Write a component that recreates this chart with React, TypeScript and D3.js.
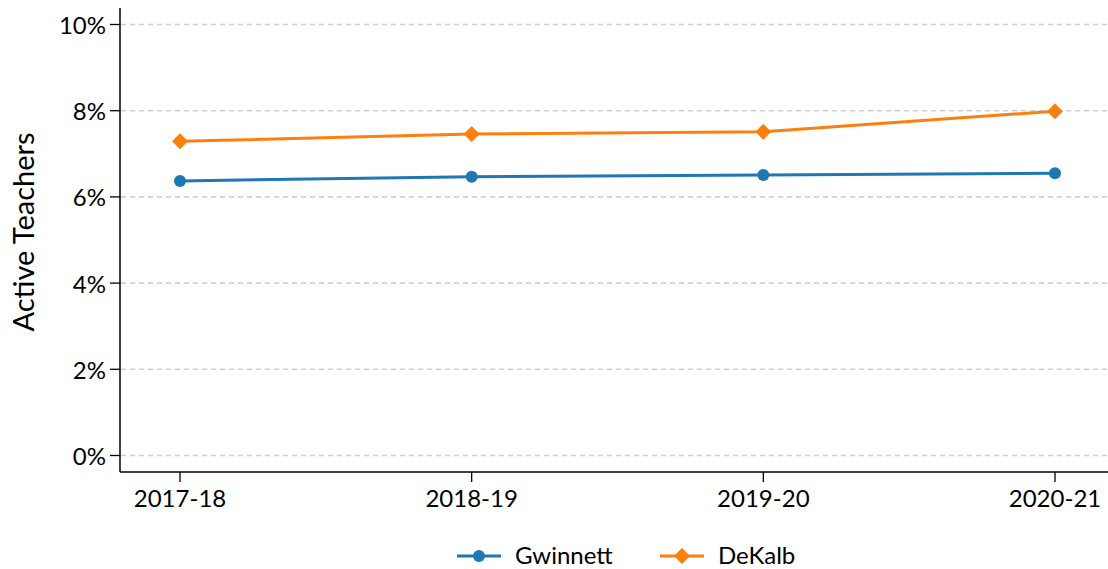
import React from "react";
import * as d3 from "d3";

const years = ["2017-18", "2018-19", "2019-20", "2020-21"];
const gwinnett = [6.37, 6.47, 6.51, 6.55];
const dekalb = [7.29, 7.46, 7.51, 7.99];
const yTicks = [0, 2, 4, 6, 8, 10];
const seriesNames = ["Gwinnett", "DeKalb"];
const colors = ["#1f77b4", "#ff7f0e"];

const W = 1108;
const H = 569;
const FONT = "Lato, 'DejaVu Sans', sans-serif";

export default function App() {
  const x = d3.scalePoint<string>().domain(years).range([180, 1055]);
  const y = d3.scaleLinear().domain([0, 10]).range([455.5, 24.5]);
  const axisLeft = 120;
  const axisBottom = 472;
  const line = d3
    .line<number>()
    .x((_, i) => x(years[i]) as number)
    .y((d) => y(d));
  const diamond = (cx: number, cy: number, r: number) =>
    `M${cx},${cy - r}L${cx + r},${cy}L${cx},${cy + r}L${cx - r},${cy}Z`;

  const data = [gwinnett, dekalb];

  return (
    <svg width={W} height={H} style={{ position: "absolute", left: 0, top: 0, background: "#fff" }}>
      <rect x={0} y={0} width={W} height={H} fill="#fff" />
      {yTicks.map((t) => (
        <line
          key={"g" + t}
          x1={axisLeft + 1}
          x2={W}
          y1={y(t)}
          y2={y(t)}
          stroke="#cfcfcf"
          strokeWidth={1.6}
          strokeDasharray="5,4"
        />
      ))}
      <line x1={axisLeft} x2={axisLeft} y1={8} y2={axisBottom} stroke="#000" strokeWidth={1.5} />
      <line x1={axisLeft} x2={W} y1={axisBottom} y2={axisBottom} stroke="#000" strokeWidth={1.5} />
      {yTicks.map((t) => (
        <g key={"yt" + t}>
          <line x1={axisLeft - 10} x2={axisLeft} y1={y(t)} y2={y(t)} stroke="#000" strokeWidth={1.3} />
          <text
            x={axisLeft - 14}
            y={y(t)}
            textAnchor="end"
            dominantBaseline="central"
            fontFamily={FONT}
            fontSize={24}
            fill="#000"
          >
            {t + "%"}
          </text>
        </g>
      ))}
      {years.map((yr) => (
        <g key={"xt" + yr}>
          <line x1={x(yr)} x2={x(yr)} y1={axisBottom} y2={axisBottom + 10} stroke="#000" strokeWidth={1.3} />
          <text
            x={x(yr)}
            y={axisBottom + 35}
            textAnchor="middle"
            fontFamily={FONT}
            fontSize={24}
            fill="#000"
          >
            {yr}
          </text>
        </g>
      ))}
      <text
        transform={`translate(34,${232}) rotate(-90)`}
        textAnchor="middle"
        fontFamily={FONT}
        fontSize={29}
        fill="#000"
      >
        Active Teachers
      </text>
      {data.map((s, si) => (
        <g key={"s" + si}>
          <path d={line(s) as string} fill="none" stroke={colors[si]} strokeWidth={3} />
          {s.map((v, i) =>
            si === 0 ? (
              <circle key={i} cx={x(years[i])} cy={y(v)} r={6} fill={colors[si]} />
            ) : (
              <path key={i} d={diamond(x(years[i]) as number, y(v), 8)} fill={colors[si]} />
            )
          )}
        </g>
      ))}
      {seriesNames.map((name, si) => {
        const lx = si === 0 ? 457 : 660;
        const ly = 556;
        return (
          <g key={"l" + si}>
            <line x1={lx} x2={lx + 44} y1={ly} y2={ly} stroke={colors[si]} strokeWidth={3} />
            {si === 0 ? (
              <circle cx={lx + 22} cy={ly} r={6} fill={colors[si]} />
            ) : (
              <path d={diamond(lx + 22, ly, 8)} fill={colors[si]} />
            )}
            <text
              x={lx + 58}
              y={ly + 8}
              fontFamily={FONT}
              fontSize={24}
              fill="#000"
            >
              {name}
            </text>
          </g>
        );
      })}
    </svg>
  );
}
